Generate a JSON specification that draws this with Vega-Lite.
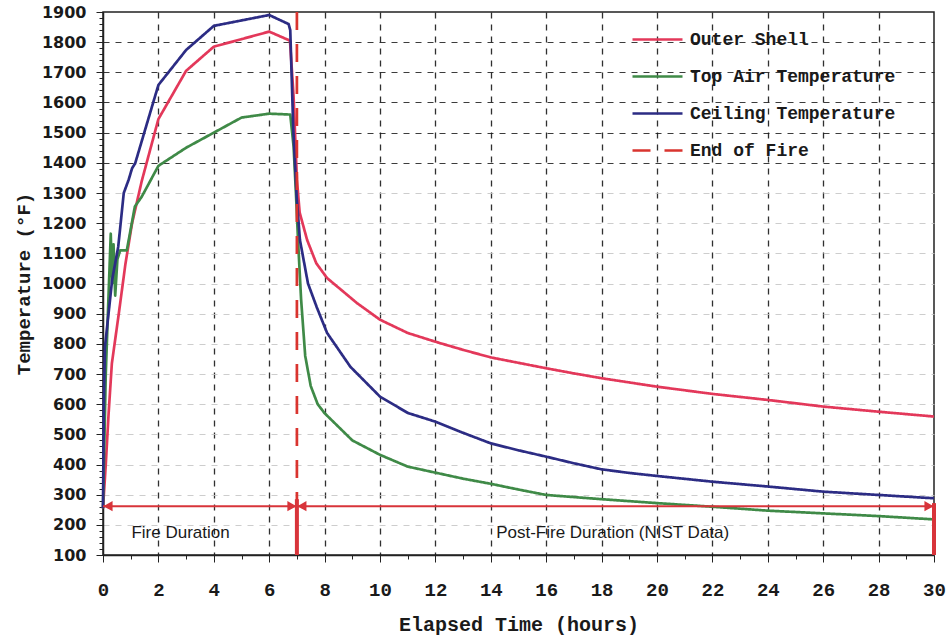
{
  "$schema": "https://vega.github.io/schema/vega-lite/v6.json",
  "width": 831,
  "height": 543,
  "autosize": {"type": "none"},
  "padding": {"left": 103, "top": 12, "right": 15, "bottom": 81},
  "background": "#ffffff",
  "config": {
    "view": {"stroke": "#222222", "strokeWidth": 1.5},
    "axis": {
      "domainColor": "#222222",
      "domainWidth": 1.5,
      "tickColor": "#222222",
      "tickWidth": 1,
      "labelColor": "#1a1a1a",
      "titleColor": "#1a1a1a"
    },
    "legend": {
      "orient": "none",
      "legendX": 528,
      "legendY": 1,
      "title": null,
      "symbolType": "stroke",
      "symbolSize": 2500,
      "symbolStrokeWidth": 2.5,
      "rowPadding": 1,
      "labelOffset": 6,
      "labelFont": "Liberation Mono",
      "labelFontSize": 18,
      "labelFontWeight": "bold",
      "labelColor": "#1a1a1a",
      "labelLimit": 400
    }
  },
  "datasets": {
    "curves": [
      {"series": "Outer Shell", "t": 0, "temp": 255},
      {"series": "Outer Shell", "t": 0.1, "temp": 400},
      {"series": "Outer Shell", "t": 0.2, "temp": 565},
      {"series": "Outer Shell", "t": 0.32, "temp": 735},
      {"series": "Outer Shell", "t": 0.57, "temp": 900},
      {"series": "Outer Shell", "t": 0.81, "temp": 1065},
      {"series": "Outer Shell", "t": 1.05, "temp": 1200},
      {"series": "Outer Shell", "t": 1.4, "temp": 1340},
      {"series": "Outer Shell", "t": 2, "temp": 1545},
      {"series": "Outer Shell", "t": 3, "temp": 1705},
      {"series": "Outer Shell", "t": 4, "temp": 1785},
      {"series": "Outer Shell", "t": 5, "temp": 1810},
      {"series": "Outer Shell", "t": 6, "temp": 1835},
      {"series": "Outer Shell", "t": 6.75, "temp": 1805},
      {"series": "Outer Shell", "t": 6.88, "temp": 1620},
      {"series": "Outer Shell", "t": 7.0, "temp": 1345},
      {"series": "Outer Shell", "t": 7.1, "temp": 1235},
      {"series": "Outer Shell", "t": 7.37, "temp": 1144},
      {"series": "Outer Shell", "t": 7.7, "temp": 1067},
      {"series": "Outer Shell", "t": 8.09, "temp": 1018},
      {"series": "Outer Shell", "t": 9.17, "temp": 935},
      {"series": "Outer Shell", "t": 10, "temp": 880},
      {"series": "Outer Shell", "t": 11, "temp": 836},
      {"series": "Outer Shell", "t": 12, "temp": 807},
      {"series": "Outer Shell", "t": 13, "temp": 780},
      {"series": "Outer Shell", "t": 14, "temp": 755},
      {"series": "Outer Shell", "t": 15, "temp": 737},
      {"series": "Outer Shell", "t": 16, "temp": 719},
      {"series": "Outer Shell", "t": 17, "temp": 702},
      {"series": "Outer Shell", "t": 18, "temp": 686},
      {"series": "Outer Shell", "t": 19, "temp": 672},
      {"series": "Outer Shell", "t": 20, "temp": 658},
      {"series": "Outer Shell", "t": 22, "temp": 634},
      {"series": "Outer Shell", "t": 24, "temp": 614},
      {"series": "Outer Shell", "t": 26, "temp": 592},
      {"series": "Outer Shell", "t": 28, "temp": 575},
      {"series": "Outer Shell", "t": 30, "temp": 559},

      {"series": "Top Air Temperature", "t": 0, "temp": 255},
      {"series": "Top Air Temperature", "t": 0.1, "temp": 700},
      {"series": "Top Air Temperature", "t": 0.2, "temp": 960},
      {"series": "Top Air Temperature", "t": 0.28, "temp": 1165},
      {"series": "Top Air Temperature", "t": 0.33, "temp": 1000},
      {"series": "Top Air Temperature", "t": 0.38, "temp": 1130},
      {"series": "Top Air Temperature", "t": 0.44, "temp": 960},
      {"series": "Top Air Temperature", "t": 0.52, "temp": 1080},
      {"series": "Top Air Temperature", "t": 0.62, "temp": 1110},
      {"series": "Top Air Temperature", "t": 0.86, "temp": 1110},
      {"series": "Top Air Temperature", "t": 1.15, "temp": 1255},
      {"series": "Top Air Temperature", "t": 1.4, "temp": 1288},
      {"series": "Top Air Temperature", "t": 2, "temp": 1390},
      {"series": "Top Air Temperature", "t": 3, "temp": 1450},
      {"series": "Top Air Temperature", "t": 4, "temp": 1500},
      {"series": "Top Air Temperature", "t": 5, "temp": 1550},
      {"series": "Top Air Temperature", "t": 6, "temp": 1563},
      {"series": "Top Air Temperature", "t": 6.76, "temp": 1560},
      {"series": "Top Air Temperature", "t": 6.88, "temp": 1455},
      {"series": "Top Air Temperature", "t": 6.97, "temp": 1290},
      {"series": "Top Air Temperature", "t": 7.04, "temp": 1145},
      {"series": "Top Air Temperature", "t": 7.15, "temp": 950},
      {"series": "Top Air Temperature", "t": 7.3, "temp": 760},
      {"series": "Top Air Temperature", "t": 7.5, "temp": 660},
      {"series": "Top Air Temperature", "t": 7.75, "temp": 600},
      {"series": "Top Air Temperature", "t": 8, "temp": 570},
      {"series": "Top Air Temperature", "t": 9, "temp": 480},
      {"series": "Top Air Temperature", "t": 10, "temp": 432},
      {"series": "Top Air Temperature", "t": 11, "temp": 393},
      {"series": "Top Air Temperature", "t": 12, "temp": 373},
      {"series": "Top Air Temperature", "t": 13, "temp": 353},
      {"series": "Top Air Temperature", "t": 14, "temp": 336},
      {"series": "Top Air Temperature", "t": 15, "temp": 317},
      {"series": "Top Air Temperature", "t": 16, "temp": 299},
      {"series": "Top Air Temperature", "t": 17, "temp": 292},
      {"series": "Top Air Temperature", "t": 18, "temp": 285},
      {"series": "Top Air Temperature", "t": 20, "temp": 272},
      {"series": "Top Air Temperature", "t": 22, "temp": 260},
      {"series": "Top Air Temperature", "t": 24, "temp": 247},
      {"series": "Top Air Temperature", "t": 26, "temp": 238},
      {"series": "Top Air Temperature", "t": 28, "temp": 229},
      {"series": "Top Air Temperature", "t": 30, "temp": 218},

      {"series": "Ceiling Temperature", "t": 0, "temp": 255},
      {"series": "Ceiling Temperature", "t": 0.03, "temp": 600},
      {"series": "Ceiling Temperature", "t": 0.07, "temp": 790},
      {"series": "Ceiling Temperature", "t": 0.2, "temp": 900},
      {"series": "Ceiling Temperature", "t": 0.33, "temp": 1012},
      {"series": "Ceiling Temperature", "t": 0.55, "temp": 1122},
      {"series": "Ceiling Temperature", "t": 0.75, "temp": 1300},
      {"series": "Ceiling Temperature", "t": 0.93, "temp": 1345},
      {"series": "Ceiling Temperature", "t": 1.05, "temp": 1382},
      {"series": "Ceiling Temperature", "t": 1.16, "temp": 1398},
      {"series": "Ceiling Temperature", "t": 2, "temp": 1658},
      {"series": "Ceiling Temperature", "t": 3, "temp": 1774},
      {"series": "Ceiling Temperature", "t": 4, "temp": 1854},
      {"series": "Ceiling Temperature", "t": 5, "temp": 1872},
      {"series": "Ceiling Temperature", "t": 6, "temp": 1890},
      {"series": "Ceiling Temperature", "t": 6.7, "temp": 1860},
      {"series": "Ceiling Temperature", "t": 6.76, "temp": 1840},
      {"series": "Ceiling Temperature", "t": 6.87, "temp": 1510},
      {"series": "Ceiling Temperature", "t": 6.99, "temp": 1288},
      {"series": "Ceiling Temperature", "t": 7.11, "temp": 1144},
      {"series": "Ceiling Temperature", "t": 7.4, "temp": 1000},
      {"series": "Ceiling Temperature", "t": 7.71, "temp": 923},
      {"series": "Ceiling Temperature", "t": 8.09, "temp": 836},
      {"series": "Ceiling Temperature", "t": 8.93, "temp": 724},
      {"series": "Ceiling Temperature", "t": 10, "temp": 625},
      {"series": "Ceiling Temperature", "t": 11, "temp": 571},
      {"series": "Ceiling Temperature", "t": 12, "temp": 542},
      {"series": "Ceiling Temperature", "t": 13, "temp": 505},
      {"series": "Ceiling Temperature", "t": 14, "temp": 470},
      {"series": "Ceiling Temperature", "t": 15, "temp": 447},
      {"series": "Ceiling Temperature", "t": 16, "temp": 426},
      {"series": "Ceiling Temperature", "t": 17, "temp": 404},
      {"series": "Ceiling Temperature", "t": 18, "temp": 384},
      {"series": "Ceiling Temperature", "t": 19, "temp": 372},
      {"series": "Ceiling Temperature", "t": 20, "temp": 362},
      {"series": "Ceiling Temperature", "t": 22, "temp": 343},
      {"series": "Ceiling Temperature", "t": 24, "temp": 327},
      {"series": "Ceiling Temperature", "t": 26, "temp": 310},
      {"series": "Ceiling Temperature", "t": 28, "temp": 299},
      {"series": "Ceiling Temperature", "t": 30, "temp": 288},

      {"series": "End of Fire", "t": 7, "temp": 1900},
      {"series": "End of Fire", "t": 7, "temp": 280}
    ],
    "spans": [
      {"t": 0, "t2": 7, "temp": 262},
      {"t": 7, "t2": 30, "temp": 262}
    ],
    "bars": [
      {"t": 7, "temp": 100, "temp2": 285},
      {"t": 30, "temp": 100, "temp2": 272}
    ],
    "heads": [
      {"t": 0, "temp": 262, "dir": "left"},
      {"t": 7, "temp": 262, "dir": "right"},
      {"t": 7, "temp": 262, "dir": "left"},
      {"t": 30, "temp": 262, "dir": "right"}
    ],
    "notes": [
      {"t": 2.8, "temp": 172, "label": "Fire Duration"},
      {"t": 18.4, "temp": 172, "label": "Post-Fire Duration (NIST Data)"}
    ]
  },
  "encoding": {
    "x": {
      "field": "t",
      "type": "quantitative",
      "scale": {"domain": [0, 30], "nice": false, "zero": false},
      "axis": {
        "title": "Elapsed Time (hours)",
        "titleFont": "Liberation Mono",
        "titleFontSize": 20,
        "titleFontWeight": "bold",
        "titlePadding": 15,
        "values": [0,0.25,0.5,0.75,1,1.25,1.5,1.75,2,2.25,2.5,2.75,3,3.25,3.5,3.75,4,4.25,4.5,4.75,5,5.25,5.5,5.75,6,6.25,6.5,6.75,7,7.25,7.5,7.75,8,8.25,8.5,8.75,9,9.25,9.5,9.75,10,10.25,10.5,10.75,11,11.25,11.5,11.75,12,12.25,12.5,12.75,13,13.25,13.5,13.75,14,14.25,14.5,14.75,15,15.25,15.5,15.75,16,16.25,16.5,16.75,17,17.25,17.5,17.75,18,18.25,18.5,18.75,19,19.25,19.5,19.75,20,20.25,20.5,20.75,21,21.25,21.5,21.75,22,22.25,22.5,22.75,23,23.25,23.5,23.75,24,24.25,24.5,24.75,25,25.25,25.5,25.75,26,26.25,26.5,26.75,27,27.25,27.5,27.75,28,28.25,28.5,28.75,29,29.25,29.5,29.75,30],
        "format": "d",
        "labelExpr": "datum.value % 2 === 0 ? datum.label : ''",
        "labelOverlap": false,
        "labelFont": "Liberation Mono",
        "labelFontSize": 19,
        "labelFontWeight": "bold",
        "labelPadding": 18,
        "labelBound": false,
        "labelFlush": false,
        "ticks": true,
        "tickSize": {"condition": {"test": "datum.value % 2 === 0", "value": 7}, "value": 4},
        "grid": true,
        "gridColor": "#1a1a1a",
        "gridWidth": 1.3,
        "gridDash": [6, 6],
        "gridOpacity": {"condition": {"test": "datum.value % 2 === 0 && datum.value > 0 && datum.value < 30", "value": 0.9}, "value": 0}
      }
    },
    "y": {
      "field": "temp",
      "type": "quantitative",
      "scale": {"domain": [100, 1900], "nice": false, "zero": false},
      "axis": {
        "title": "Temperature (°F)",
        "titleFont": "Liberation Mono",
        "titleFontSize": 19,
        "titleFontWeight": "bold",
        "titlePadding": 8,
        "values": [100,120,140,160,180,200,220,240,260,280,300,320,340,360,380,400,420,440,460,480,500,520,540,560,580,600,620,640,660,680,700,720,740,760,780,800,820,840,860,880,900,920,940,960,980,1000,1020,1040,1060,1080,1100,1120,1140,1160,1180,1200,1220,1240,1260,1280,1300,1320,1340,1360,1380,1400,1420,1440,1460,1480,1500,1520,1540,1560,1580,1600,1620,1640,1660,1680,1700,1720,1740,1760,1780,1800,1820,1840,1860,1880,1900],
        "labelExpr": "datum.value % 100 === 0 ? datum.label : ''",
        "format": "d",
        "labelOverlap": false,
        "labelFont": "DejaVu Sans",
        "labelFontSize": 16,
        "labelFontWeight": "bold",
        "labelPadding": 10,
        "labelBound": false,
        "labelFlush": false,
        "ticks": true,
        "tickSize": {"condition": {"test": "datum.value % 100 === 0", "value": 7}, "value": 4},
        "grid": true,
        "gridWidth": 1.2,
        "gridDash": [6, 6],
        "gridColor": {"condition": {"test": "datum.value >= 1400", "value": "#1a1a1a"}, "value": "#c4c4c4"},
        "gridOpacity": {"condition": {"test": "datum.value % 100 === 0 && datum.value > 100 && datum.value < 1900", "value": 0.85}, "value": 0}
      }
    }
  },
  "layer": [
    {
      "data": {"name": "curves"},
      "mark": {"type": "line", "strokeJoin": "round", "strokeCap": "butt", "strokeWidth": 2.7},
      "encoding": {
        "color": {
          "field": "series",
          "type": "nominal",
          "scale": {
            "domain": ["Outer Shell", "Top Air Temperature", "Ceiling Temperature", "End of Fire"],
            "range": ["#e3385a", "#3f8a47", "#2c2c84", "#d9342f"]
          }
        },
        "strokeDash": {
          "field": "series",
          "type": "nominal",
          "scale": {
            "domain": ["Outer Shell", "Top Air Temperature", "Ceiling Temperature", "End of Fire"],
            "range": [[1, 0], [1, 0], [1, 0], [18, 14]]
          }
        },
        "order": {"field": "t", "type": "quantitative"}
      }
    },
    {
      "data": {"name": "spans"},
      "mark": {"type": "rule", "color": "#d8343a", "strokeWidth": 2},
      "encoding": {
        "x2": {"field": "t2"}
      }
    },
    {
      "data": {"name": "bars"},
      "mark": {"type": "rule", "color": "#d8343a", "strokeWidth": 4},
      "encoding": {
        "y2": {"field": "temp2"}
      }
    },
    {
      "data": {"name": "heads"},
      "transform": [{"filter": "datum.dir === 'left'"}],
      "mark": {"type": "point", "shape": "triangle-left", "filled": true, "color": "#d8343a", "size": 110, "xOffset": 5, "opacity": 1}
    },
    {
      "data": {"name": "heads"},
      "transform": [{"filter": "datum.dir === 'right'"}],
      "mark": {"type": "point", "shape": "triangle-right", "filled": true, "color": "#d8343a", "size": 110, "xOffset": -5, "opacity": 1}
    },
    {
      "data": {"name": "notes"},
      "mark": {"type": "text", "font": "Liberation Sans", "fontSize": 17, "color": "#1a1a1a", "align": "center", "baseline": "middle"},
      "encoding": {
        "text": {"field": "label"}
      }
    }
  ]
}
